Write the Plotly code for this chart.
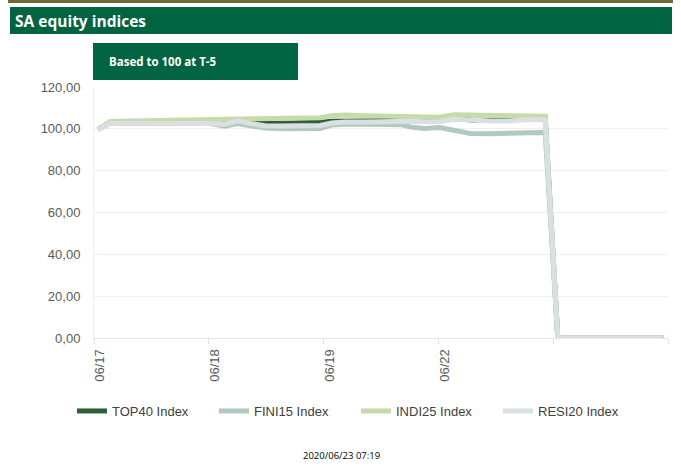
import plotly.graph_objects as go

# ---- data (x in trading-day offsets from 06/17) ----
x_pos = [0.035, 0.14, 0.31, 0.57, 0.84, 1.01, 1.14, 1.25, 1.36, 1.49, 1.62, 1.79, 1.97,
         2.07, 2.19, 2.36, 2.54, 2.67, 2.77, 2.88, 3.01, 3.14, 3.28, 3.45, 3.62, 3.75,
         3.93, 4.04, 4.96]

top40 = [99.8, 102.8, 102.9, 103.0, 103.0, 103.0, 102.8, 103.8, 103.2, 102.8, 102.7, 102.8, 103.2,
         103.6, 103.9, 103.8, 104.0, 104.2, 104.0, 103.8, 103.9, 105.3, 104.2, 104.0, 104.0, 105.2,
         105.2, 0.0, 0.0]
fini15 = [99.8, 102.8, 103.0, 103.0, 103.0, 102.5, 101.3, 102.5, 101.5, 100.4, 100.0, 100.0, 100.2,
          101.8, 102.3, 102.2, 102.2, 102.0, 100.8, 100.2, 100.6, 99.2, 97.8, 97.7, 97.8, 98.1,
          98.3, 0.0, 0.0]
indi25 = [99.8, 103.5, 103.8, 104.0, 104.2, 104.5, 104.8, 105.0, 104.8, 104.6, 104.8, 105.0, 105.3,
          106.2, 106.6, 106.3, 106.0, 105.8, 105.6, 105.4, 105.5, 106.7, 106.5, 106.3, 106.2, 106.1,
          106.0, 0.0, 0.0]
resi20 = [99.6, 102.6, 102.7, 102.8, 102.8, 102.6, 102.2, 103.8, 102.6, 101.5, 101.4, 101.4, 101.6,
          102.8, 103.3, 103.3, 103.5, 103.8, 103.6, 103.4, 103.5, 104.6, 104.0, 103.8, 103.8, 104.4,
          104.4, 0.0, 0.0]

series_names = ["TOP40 Index", "FINI15 Index", "INDI25 Index", "RESI20 Index"]
series_colors = ["#2E5E3A", "#B3C9BF", "#C6DCA8", "#DADFE1"]

tick_vals = [0, 1, 2, 3, 4, 5]
tick_text = ["06/17", "06/18", "06/19", "06/22", "", ""]
y_ticks = [0, 20, 40, 60, 80, 100, 120]
y_text = ["0,00", "20,00", "40,00", "60,00", "80,00", "100,00", "120,00"]

title_text = "SA equity indices"
subtitle_text = "Based to 100 at T-5"
stamp_text = "2020/06/23 07:19"

# ---- layout geometry (pixels) ----
W, H = 681, 470
L, R, T, B = 94, 668, 87, 338


def px(x):
    return (x - L) / (R - L)


def py(y):
    return (B - y) / (B - T)


fig = go.Figure()
for name, vals, col in zip(series_names, [top40, fini15, indi25, resi20], series_colors):
    fig.add_trace(go.Scatter(x=x_pos, y=vals, mode="lines", name=name,
                             line=dict(color=col, width=5), cliponaxis=False))

GREEN = "#006341"
shapes = [
    dict(type="rect", xref="paper", yref="paper", x0=px(8), x1=px(673), y0=py(0), y1=py(3),
         fillcolor="#6E6C36", line=dict(width=0), layer="above"),
    dict(type="rect", xref="paper", yref="paper", x0=px(10), x1=px(672), y0=py(7), y1=py(34),
         fillcolor=GREEN, line=dict(width=0)),
    dict(type="rect", xref="paper", yref="paper", x0=px(93), x1=px(298), y0=py(43), y1=py(80),
         fillcolor=GREEN, line=dict(width=0)),
]
annotations = [
    dict(text=title_text, xref="paper", yref="paper", x=px(13), y=py(20.5), xanchor="left",
         yanchor="middle", showarrow=False,
         font=dict(family="Open Sans", size=15.5, color="white", weight="bold")),
    dict(text=subtitle_text, xref="paper", yref="paper", x=px(107), y=py(61), xanchor="left",
         yanchor="middle", showarrow=False,
         font=dict(family="Open Sans", size=11.5, color="white", weight="bold")),
    dict(text=stamp_text, xref="paper", yref="paper", x=px(341), y=py(455), xanchor="center",
         yanchor="middle", showarrow=False,
         font=dict(family="Open Sans", size=9.5, color="#000000")),
]

fig.update_layout(
    width=W, height=H,
    margin=dict(l=L, r=W - R, t=T, b=H - B, pad=0),
    plot_bgcolor="white", paper_bgcolor="white",
    shapes=shapes, annotations=annotations,
    showlegend=True,
    legend=dict(orientation="h", x=px(72), y=py(411), xanchor="left", yanchor="middle",
                entrywidth=97, entrywidthmode="pixels", itemwidth=30,
                font=dict(family="Liberation Sans", size=13, color="#404040"),
                bgcolor="rgba(0,0,0,0)"),
    xaxis=dict(range=[0, 5], tickvals=tick_vals, ticktext=tick_text, tickangle=-90,
               showgrid=False, zeroline=False, showline=True, linecolor="#E6E6E6", linewidth=1,
               ticks="outside", ticklen=5, tickcolor="#E0E0E0", ticklabelshift=6,
               tickfont=dict(family="Liberation Sans", size=13, color="#595959")),
    yaxis=dict(range=[0, 120], tickvals=y_ticks, ticktext=y_text, showgrid=True,
               gridcolor="#EFEFEF", gridwidth=1, zeroline=False, showline=True,
               linecolor="#EFEFEF", ticks="", ticklabelstandoff=10,
               tickfont=dict(family="Liberation Sans", size=13, color="#595959")),
    font=dict(family="Liberation Sans"),
)

fig.write_html("out.html", config={"displayModeBar": False},
               post_script="document.body.style.margin='0';document.body.style.padding='0';")
